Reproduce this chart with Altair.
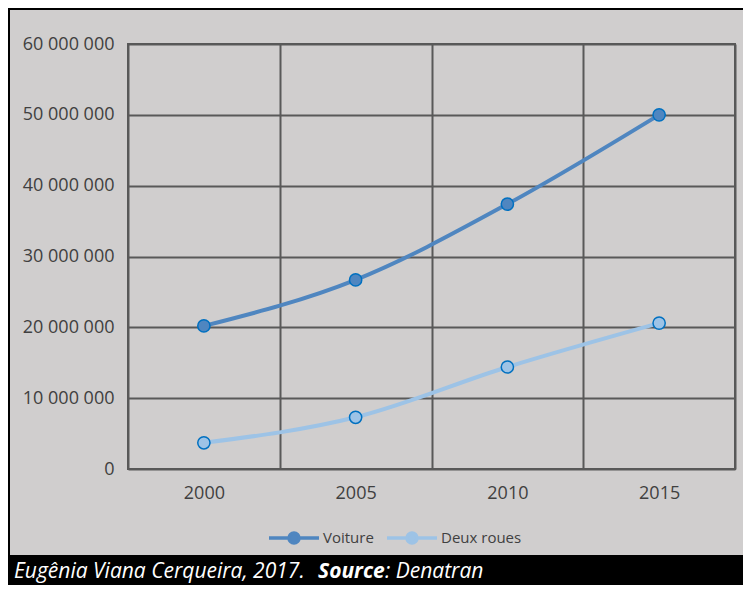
import altair as alt
import pandas as pd

years = ["2000", "2005", "2010", "2015"]
voiture = [20200000, 26700000, 37400000, 50000000]
deux_roues = [3700000, 7300000, 14400000, 20600000]
series = ["Voiture", "Deux roues"]
colors = ["#4f86c0", "#9dc3e6"]
y_ticks = [0, 10000000, 20000000, 30000000, 40000000, 50000000, 60000000]

rows = []
for name, vals in zip(series, [voiture, deux_roues]):
    for yr, v in zip(years, vals):
        rows.append({"Année": yr, "Valeur": v, "Série": name})
df = pd.DataFrame(rows)

FONT = "Open Sans"
W, H = 607, 425

x_enc = alt.X("Année:N", sort=years, title=None,
              scale=alt.Scale(paddingInner=0, paddingOuter=0),
              axis=alt.Axis(tickBand="extent", grid=True, gridColor="#595959", gridWidth=2,
                            ticks=False, domain=False, labelAngle=0, labelFont=FONT,
                            labelFontSize=18, labelColor="#404040", labelPadding=15))
y_enc = alt.Y("Valeur:Q", title=None,
              scale=alt.Scale(domain=[0, 60000000]),
              axis=alt.Axis(values=y_ticks, grid=True, gridColor="#595959", gridWidth=2,
                            ticks=False, domain=False, labelFont=FONT, labelFontSize=18,
                            labelColor="#404040", labelPadding=14,
                            labelExpr="datum.value == 0 ? '0' : format(datum.value/1000000, 'd') + ' 000 000'"))
color_enc = alt.Color("Série:N", sort=series,
                      scale=alt.Scale(domain=series, range=colors),
                      legend=alt.Legend(title=None, orient="none", direction="horizontal",
                                        legendX=139, legendY=467,
                                        symbolType="M-1,0H-0.2M0.2,0H1M-0.2,0A0.2,0.2 0 1,1 0.2,0A0.2,0.2 0 1,1 -0.2,0",
                                        symbolSize=2500, symbolStrokeWidth=3.5,
                                        labelFont=FONT, labelFontSize=15, labelColor="#404040",
                                        labelOffset=2, columnPadding=6))

base = alt.Chart(df)
lines = base.mark_line(strokeWidth=4, interpolate="monotone").encode(x=x_enc, y=y_enc, color=color_enc)
points = base.mark_point(filled=True, size=150, stroke="#0070c0", strokeWidth=1.5, opacity=1).encode(
    x=x_enc, y=y_enc, color=alt.Color("Série:N", sort=series, scale=alt.Scale(domain=series, range=colors), legend=None))

one = alt.Data(values=[{"a": 1}])
frame = alt.Chart(one).mark_rect(fill="transparent", stroke="black", strokeWidth=2).encode(
    x=alt.value(-119), x2=alt.value(620), y=alt.value(-35), y2=alt.value(512))
band = alt.Chart(one).mark_rect(color="black").encode(
    x=alt.value(-120), x2=alt.value(620), y=alt.value(512), y2=alt.value(545))
CAP_FONT = "Open Sans"
CAP_SIZE = 21
CAP_Y = 534
cap1 = alt.Chart(one).mark_text(text="Eugênia Viana Cerqueira, 2017.", font=CAP_FONT,
                                fontStyle="italic", fontSize=CAP_SIZE, color="white", align="left",
                                baseline="alphabetic").encode(x=alt.value(-114), y=alt.value(CAP_Y))
cap2 = alt.Chart(one).mark_text(text="Source", font=CAP_FONT, fontStyle="italic",
                                fontWeight="bold", fontSize=CAP_SIZE, color="white", align="left",
                                baseline="alphabetic").encode(x=alt.value(190), y=alt.value(CAP_Y))
cap3 = alt.Chart(one).mark_text(text=": Denatran", font=CAP_FONT, fontStyle="italic",
                                fontSize=CAP_SIZE, color="white", align="left",
                                baseline="alphabetic").encode(x=alt.value(257), y=alt.value(CAP_Y))

chart = alt.layer(lines, points, frame, band, cap1, cap2, cap3).properties(
    width=W, height=H, background="#d0cece",
    autosize=alt.AutoSizeParams(type="none"),
    padding={"left": 120, "top": 36, "right": 8, "bottom": 116},
).configure_view(stroke="#595959", strokeWidth=2)

chart.save("out.html", embed_options={"renderer": "svg", "actions": False})
